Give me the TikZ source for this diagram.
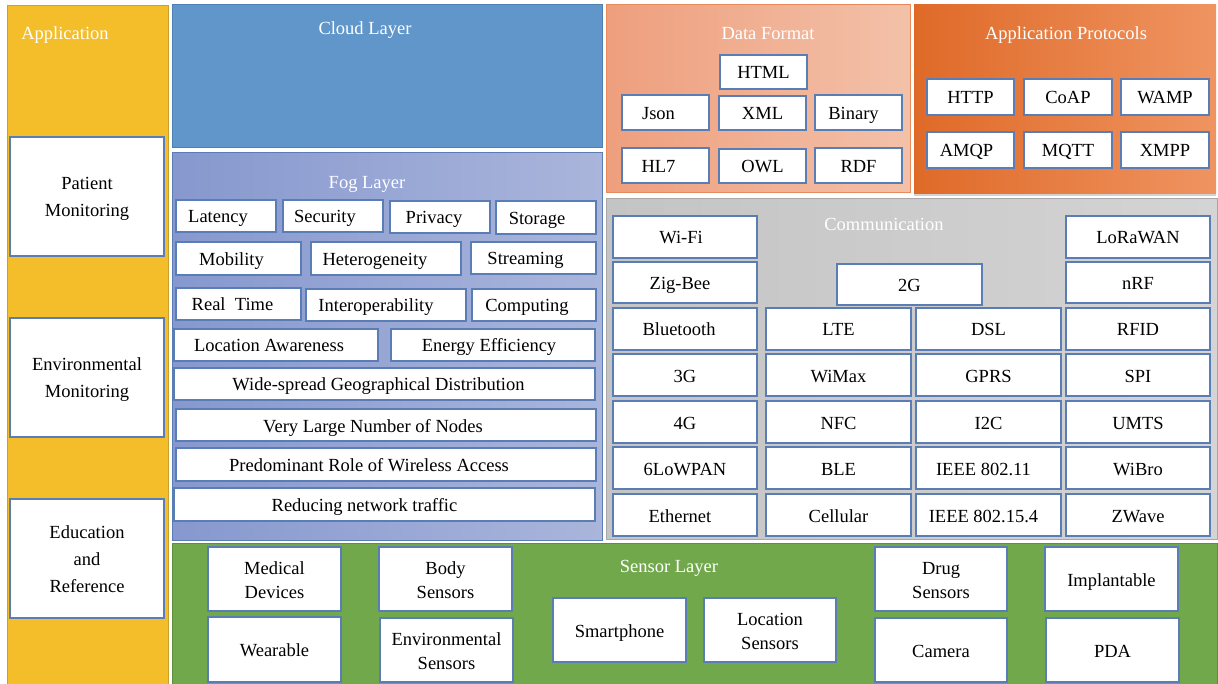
\documentclass[tikz,border=0pt]{standalone}
\usepackage{fontspec}
\setmainfont{Liberation Serif}
\usetikzlibrary{fit,shadows}
\definecolor{boxblue}{HTML}{5A7DB5}
\definecolor{appyel}{HTML}{F4BD2A}
\definecolor{appyelb}{HTML}{C9A030}
\definecolor{cloudb}{HTML}{6096CA}
\definecolor{cloudbd}{HTML}{4E80B4}
\definecolor{fogl}{HTML}{8698CE}
\definecolor{fogr}{HTML}{AAB5DB}
\definecolor{dfl}{HTML}{EE9F7D}
\definecolor{dfr}{HTML}{F3C1A9}
\definecolor{dfbd}{HTML}{E88A5C}
\definecolor{apl}{HTML}{DF6A28}
\definecolor{apr}{HTML}{EF9461}
\definecolor{coml}{HTML}{C4C4C4}
\definecolor{comr}{HTML}{D4D4D4}
\definecolor{combd}{HTML}{A8A8A8}
\definecolor{sens}{HTML}{72A84C}
\definecolor{sensbd}{HTML}{5E8E3E}
\tikzset{
  box/.style={draw=boxblue, line width=1.1pt, fill=white, inner sep=0pt, outer sep=0pt,
    align=center, text height=14pt, text depth=0pt, font=\fontsize{18.5}{24}\selectfont},
  two/.style={text height=38pt},
  atwo/.style={font=\fontsize{18.5}{27}\selectfont, text height=41pt},
  athree/.style={font=\fontsize{18.5}{27}\selectfont, text height=68pt},
  shl/.style={execute at end node={\hspace*{#1pt}}},
  panel/.style={inner sep=0pt, line width=1pt},
  ttl/.style={text=white, font=\fontsize{18.5}{22}\selectfont, inner sep=0pt}
}
\newcommand\bx[7][]{\node[box,#1,anchor=north west,minimum width={(#5-#3)*1pt},
  minimum height={(#6-#4)*1pt}] (#2) at (#3,#4) {#7};}
\begin{document}
\begin{tikzpicture}[x=1pt,y=-1pt]
\useasboundingbox (0,0) rectangle (1218,684);
\fill[white] (0,0) rectangle (1218,684);
% panels
\node[panel, draw=appyelb, fill=appyel, fit={(7,6)(168,684)}] (app) {};
\node[ttl] (appt) at (65,35) {Application};
\node[panel, draw=cloudbd, fill=cloudb, fit={(172,5)(602,148)}] (cloud) {};
\node[ttl] (cloudt) at (365,30) {Cloud Layer};
\node[panel, draw=boxblue, left color=fogl, right color=fogr, fit={(172,153)(602,540)}] (fog) {};
\node[ttl] (fogt) at (367,184) {Fog Layer};
\node[panel, draw=dfbd, left color=dfl, right color=dfr, fit={(606,5)(910,193)}] (df) {};
\node[ttl] (dft) at (768,34) {Data Format};
\node[panel, left color=apl, right color=apr, drop shadow={opacity=0.35, shadow xshift=0pt, shadow yshift=-2pt}, fit={(914,5)(1216,194)}] (ap) {};
\node[ttl] (apt) at (1066,35) {Application Protocols};
\node[panel, draw=combd, left color=coml, right color=comr, fit={(606,199)(1217,539)}] (com) {};
\node[ttl] (comt) at (884,224) {Communication};
\node[panel, draw=sensbd, fill=sens, fit={(172,543)(1217,684)}] (sen) {};
\node[ttl] (sent) at (669,568) {Sensor Layer};
% application boxes
\bx[atwo]{pm}{10}{137}{164}{256}{Patient\\Monitoring}
\bx[atwo]{em}{10}{318}{164}{437}{Environmental\\Monitoring}
\bx[athree]{er}{10}{499}{164}{618}{Education\\and\\Reference}
% fog boxes
\bx[shl=16]{lat}{176}{200}{276}{232}{Latency}
\bx[shl=16]{sec}{283}{200}{383}{232}{Security}
\bx[shl=12]{pri}{390}{201}{490}{233}{Privacy}
\bx[shl=18]{sto}{496}{201}{596}{234}{Storage}
\bx[shl=14]{mob}{176}{242}{301}{275}{Mobility}
\bx[shl=22]{het}{311}{242}{461}{275}{Heterogeneity}
\bx[shl=16]{str}{471}{242}{596}{274}{Streaming}
\bx[shl=12]{rt}{176}{288}{301}{320}{Real~~Time}
\bx[shl=20]{int}{306}{289}{466}{321}{Interoperability}
\bx[shl=14]{cmp}{472}{289}{596}{321}{Computing}
\bx[shl=14]{loc}{174}{329}{378}{361}{Location Awareness}
\bx[shl=8]{ene}{391}{329}{595}{361}{Energy Efficiency}
\bx[shl=12]{wid}{174}{368}{595}{400}{Wide-spread Geographical Distribution}
\bx[shl=26]{vln}{176}{409}{596}{441}{Very Large Number of Nodes}
\bx[shl=34]{pre}{176}{448}{596}{481}{Predominant Role of Wireless Access}
\bx[shl=40]{red}{174}{488}{595}{521}{Reducing network traffic}
% data format
\bx{html}{720}{55}{807}{89}{HTML}
\bx[shl=14]{json}{622}{95}{709}{130}{Json}
\bx{xml}{719}{96}{806}{130}{XML}
\bx[shl=10]{bin}{815}{95}{902}{130}{Binary}
\bx[shl=14]{hl7}{622}{148}{709}{183}{HL7}
\bx{owl}{719}{149}{806}{183}{OWL}
\bx{rdf}{815}{148}{902}{183}{RDF}
% application protocols
\bx{http}{927}{79}{1014}{115}{HTTP}
\bx{coap}{1024}{79}{1112}{115}{CoAP}
\bx{wamp}{1121}{79}{1209}{115}{WAMP}
\bx[shl=8]{amqp}{927}{132}{1014}{168}{AMQP}
\bx{mqtt}{1024}{132}{1112}{168}{MQTT}
\bx{xmpp}{1121}{132}{1209}{168}{XMPP}
% communication
\bx[shl=8]{wifi}{613}{216}{757}{258}{Wi-Fi}
\bx{lora}{1066}{216}{1210}{258}{LoRaWAN}
\bx[shl=10]{zig}{613}{262}{757}{303}{Zig-Bee}
\bx{g2}{837}{264}{982}{305}{2G}
\bx{nrf}{1066}{262}{1210}{303}{nRF}
\bx[shl=12]{blu}{613}{308}{757}{350}{Bluetooth}
\bx{lte}{766}{308}{911}{350}{LTE}
\bx{dsl}{916}{308}{1061}{350}{DSL}
\bx{rfid}{1066}{308}{1210}{350}{RFID}
\bx{g3}{613}{354}{757}{396}{3G}
\bx{wimax}{766}{354}{911}{396}{WiMax}
\bx{gprs}{916}{354}{1061}{396}{GPRS}
\bx{spi}{1066}{354}{1210}{396}{SPI}
\bx{g4}{613}{401}{757}{443}{4G}
\bx{nfc}{766}{401}{911}{443}{NFC}
\bx{i2c}{916}{401}{1061}{443}{I2C}
\bx{umts}{1066}{401}{1210}{443}{UMTS}
\bx{low}{613}{447}{757}{489}{6LoWPAN}
\bx{ble}{766}{447}{911}{489}{BLE}
\bx[shl=10]{ieeea}{916}{447}{1061}{489}{IEEE 802.11}
\bx{wibro}{1066}{447}{1210}{489}{WiBro}
\bx[shl=10]{eth}{613}{494}{757}{536}{Ethernet}
\bx{cell}{766}{494}{911}{536}{Cellular}
\bx[shl=10]{ieeeb}{916}{494}{1061}{536}{IEEE 802.15.4}
\bx{zw}{1066}{494}{1210}{536}{ZWave}
% sensors
\bx[two]{med}{208}{547}{341}{611}{Medical\\Devices}
\bx{wear}{208}{617}{341}{682}{Wearable}
\bx[two]{body}{379}{547}{512}{611}{Body\\Sensors}
\bx[two]{envs}{380}{618}{513}{682}{Environmental\\Sensors}
\bx{smart}{553}{598}{686}{662}{Smartphone}
\bx[two]{locs}{704}{598}{836}{662}{Location\\Sensors}
\bx[two]{drug}{875}{547}{1007}{611}{Drug\\Sensors}
\bx{cam}{875}{618}{1007}{682}{Camera}
\bx{impl}{1045}{547}{1178}{611}{Implantable}
\bx{pda}{1046}{618}{1179}{682}{PDA}
\end{tikzpicture}
\end{document}
